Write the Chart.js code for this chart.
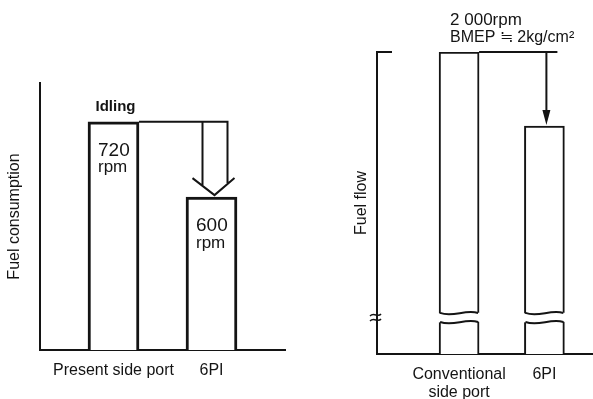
<!DOCTYPE html>
<html>
<head>
<meta charset="utf-8">
<script src="https://cdn.jsdelivr.net/npm/chart.js@4.4.0/dist/chart.umd.min.js"></script>
<style>
  body { margin: 0; background: #fff; }
  #wrap { position: relative; width: 593px; height: 399px; }
  #idleChart { position: absolute; left: 0; top: 0; }
  #loadChart { position: absolute; left: 300px; top: 0; }
</style>
</head>
<body>
<div id="wrap">
  <canvas id="idleChart" width="300" height="399"></canvas>
  <canvas id="loadChart" width="293" height="399"></canvas>
</div>
<script>
// left panel: idling fuel consumption (relative, no scale printed)
var idleLabels = ['Present side port', '6PI'];
var idleValues = [100, 67];
var idleRpm = ['720', '600'];

// right panel: 2000rpm, BMEP 2kg/cm2 fuel flow (axis broken between breakLow and breakHigh)
var loadLabels = [['Conventional', 'side port'], '6PI'];
var loadValues = [100, 75.5];
var breakLow = 10.6, breakHigh = 13.6;

var ink = '#141414';
var font = "'Liberation Sans', Arial, sans-serif";
Chart.defaults.font.family = font;
Chart.defaults.color = ink;

// x axis is linear so the bars can sit where the drawing puts them
function slotAxis(slots, labels, h) {
  return {
    type: 'linear', min: 0, max: 10, offset: false,
    grid: { display: false, offset: false },
    border: { display: true, color: ink, width: 2 },
    afterBuildTicks: function (s) {
      s.ticks = slots.map(function (v) { return { value: v }; });
    },
    ticks: {
      padding: 4, autoSkip: false, maxRotation: 0, color: ink,
      font: { size: 16, lineHeight: 1.1 },
      callback: function (v, i) { return labels[i]; }
    },
    afterFit: function (s) { s.height = h; }
  };
}

function valueAxis(max, title, w, titlePad) {
  return {
    min: 0, max: max,
    ticks: { display: false },
    grid: { display: false },
    border: { display: true, color: ink, width: 2 },
    title: { display: true, text: title, color: ink, font: { size: 16 }, padding: { top: titlePad, bottom: 4 } },
    afterFit: function (s) { s.width = w; }
  };
}

function wave(ctx, L, R, base) {
  var w = R - L;
  ctx.moveTo(L, base);
  ctx.bezierCurveTo(L + w * 0.35, base + 5, L + w * 0.65, base - 4, R, base);
}

var idleMarks = {
  id: 'idleMarks',
  afterDraw: function (chart) {
    var ctx = chart.ctx;
    var bars = chart.getDatasetMeta(0).data;
    var a = bars[0], b = bars[1];
    ctx.save();
    ctx.fillStyle = ink;
    ctx.strokeStyle = ink;
    ctx.lineWidth = 2;
    ctx.textBaseline = 'middle';
    ctx.textAlign = 'center';
    ctx.font = 'bold 15px ' + font;
    ctx.fillText('Idling', a.x + 2, a.y - 15);
    ctx.textAlign = 'left';
    bars.forEach(function (el, i) {
      var left = el.x - el.width / 2 + 10;
      ctx.font = '19px ' + font;
      ctx.fillText(idleRpm[i], left, el.y + 29);
      ctx.font = '17px ' + font;
      ctx.fillText('rpm', left, el.y + 46);
    });
    // hollow arrow from the present level down to 6PI
    var tip = b.x + 3, l = b.x - 9, r = b.x + 16, neck = b.y - 19;
    ctx.beginPath();
    ctx.moveTo(a.x + a.width / 2, a.y);
    ctx.lineTo(r, a.y);
    ctx.lineTo(r, neck + 5);
    ctx.moveTo(l, a.y);
    ctx.lineTo(l, neck + 7);
    ctx.moveTo(b.x - 19, neck);
    ctx.lineTo(tip, b.y - 2);
    ctx.lineTo(b.x + 23, neck);
    ctx.stroke();
    ctx.restore();
  }
};

var loadMarks = {
  id: 'loadMarks',
  afterDraw: function (chart) {
    var ctx = chart.ctx, area = chart.chartArea, ys = chart.scales.y;
    var bars = chart.getDatasetMeta(0).data;
    var a = bars[0], b = bars[1];
    var yHi = ys.getPixelForValue(breakHigh), yLo = ys.getPixelForValue(breakLow);
    ctx.save();
    ctx.strokeStyle = ink;
    ctx.fillStyle = ink;
    ctx.lineWidth = 2;
    // breaks through the bars
    bars.forEach(function (el) {
      var L = el.x - el.width / 2, R = el.x + el.width / 2, w = R - L;
      ctx.fillStyle = '#fff';
      ctx.beginPath();
      wave(ctx, L - 1, R + 1, yHi);
      ctx.lineTo(R + 1, yLo);
      ctx.bezierCurveTo(L + w * 0.65, yLo - 4, L + w * 0.35, yLo + 5, L - 1, yLo);
      ctx.closePath();
      ctx.fill();
      ctx.beginPath();
      wave(ctx, L + 1, R - 1, yHi);
      wave(ctx, L + 1, R - 1, yLo);
      ctx.stroke();
    });
    // break sign on the axis
    var mid = (yHi + yLo) / 2;
    ctx.lineWidth = 1.5;
    ctx.beginPath();
    [mid - 2.5, mid + 2.5].forEach(function (y) {
      ctx.moveTo(area.left - 7, y + 1);
      ctx.bezierCurveTo(area.left - 3, y - 3, area.left + 1, y + 3, area.left + 4, y - 1);
    });
    ctx.stroke();
    // small tick at the top of the axis
    ctx.lineWidth = 2;
    ctx.beginPath();
    ctx.moveTo(area.left, area.top);
    ctx.lineTo(area.left + 15, area.top);
    ctx.stroke();
    // reference line and arrow
    var ax = b.x + 2;
    ctx.beginPath();
    ctx.moveTo(a.x + a.width / 2, a.y);
    ctx.lineTo(b.x + 13, a.y);
    ctx.moveTo(ax, a.y);
    ctx.lineTo(ax, b.y - 14);
    ctx.stroke();
    ctx.fillStyle = ink;
    ctx.beginPath();
    ctx.moveTo(ax - 4, b.y - 16);
    ctx.lineTo(ax + 4, b.y - 16);
    ctx.lineTo(ax, b.y - 1);
    ctx.closePath();
    ctx.fill();
    // condition text
    ctx.textAlign = 'left';
    ctx.textBaseline = 'middle';
    ctx.font = '17px ' + font;
    ctx.fillText('2 000rpm', a.x - 9, a.y - 32);
    ctx.font = '16px ' + font;
    ctx.fillText('BMEP \u2252 2kg/cm\u00b2', a.x - 9, a.y - 14);
    ctx.restore();
  }
};

new Chart(document.getElementById('idleChart'), {
  type: 'bar',
  data: {
    datasets: [{
      data: idleValues.map(function (v, i) { return { x: [3, 7][i], y: v }; }),
      backgroundColor: '#fff',
      borderColor: ink,
      borderWidth: 3,
      barThickness: 51
    }]
  },
  options: {
    responsive: false,
    animation: false,
    devicePixelRatio: 1,
    layout: { padding: { top: 83, right: 15, left: 0, bottom: 0 } },
    plugins: { legend: { display: false }, tooltip: { enabled: false } },
    scales: {
      x: slotAxis([3, 7], idleLabels, 49),
      y: valueAxis(117, 'Fuel consumption', 40, 5)
    }
  },
  plugins: [idleMarks]
});

new Chart(document.getElementById('loadChart'), {
  type: 'bar',
  data: {
    datasets: [{
      data: loadValues.map(function (v, i) { return { x: [3.8, 7.75][i], y: v }; }),
      backgroundColor: '#fff',
      borderColor: ink,
      borderWidth: 2,
      barThickness: 40
    }]
  },
  options: {
    responsive: false,
    animation: false,
    devicePixelRatio: 1,
    layout: { padding: { top: 52, right: 0, left: 0, bottom: 0 } },
    plugins: { legend: { display: false }, tooltip: { enabled: false } },
    scales: {
      x: slotAxis([3.8, 7.75], loadLabels, 45),
      y: valueAxis(100, 'Fuel flow', 77, 52)
    }
  },
  plugins: [loadMarks]
});
</script>
</body>
</html>
